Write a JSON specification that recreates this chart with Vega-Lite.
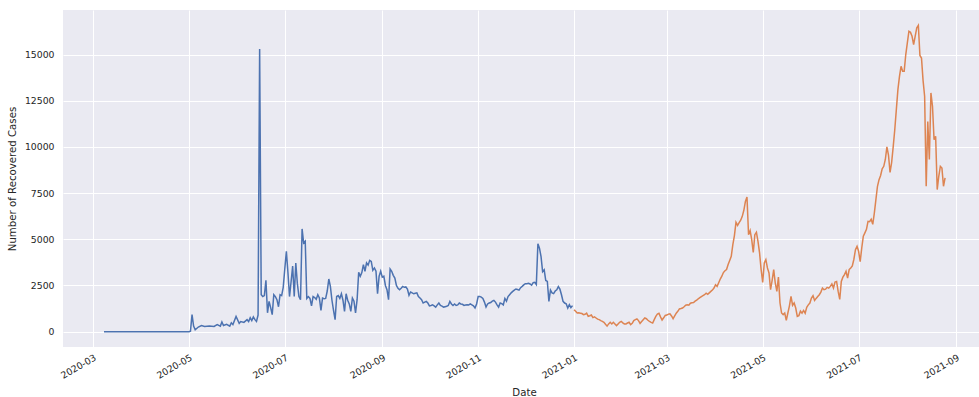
{
  "$schema": "https://vega.github.io/schema/vega-lite/v6.json",
  "autosize": "none",
  "width": 916,
  "height": 337,
  "padding": {"left": 63, "top": 10, "right": 0, "bottom": 50},
  "background": "white",
  "config": {
    "view": {"stroke": null, "fill": "#EAEAF2"},
    "axis": {
      "grid": true, "gridColor": "#FFFFFF", "gridWidth": 1,
      "domain": false, "ticks": false, "tickSize": 0,
      "labelFont": "DejaVu Sans", "titleFont": "DejaVu Sans",
      "labelColor": "#262626", "titleColor": "#262626",
      "labelFontSize": 9.3, "titleFontSize": 10.2, "titleFontWeight": "normal"
    }
  },
  "datasets": {
    "recovered": [
      {"date":"2020-03-08","cases":0,"year":"2020"},
      {"date":"2020-04-01","cases":0,"year":"2020"},
      {"date":"2020-05-01","cases":0,"year":"2020"},
      {"date":"2020-05-02","cases":30,"year":"2020"},
      {"date":"2020-05-03","cases":920,"year":"2020"},
      {"date":"2020-05-04","cases":300,"year":"2020"},
      {"date":"2020-05-05","cases":100,"year":"2020"},
      {"date":"2020-05-07","cases":250,"year":"2020"},
      {"date":"2020-05-09","cases":330,"year":"2020"},
      {"date":"2020-05-11","cases":280,"year":"2020"},
      {"date":"2020-05-14","cases":300,"year":"2020"},
      {"date":"2020-05-17","cases":280,"year":"2020"},
      {"date":"2020-05-19","cases":380,"year":"2020"},
      {"date":"2020-05-21","cases":300,"year":"2020"},
      {"date":"2020-05-22","cases":520,"year":"2020"},
      {"date":"2020-05-23","cases":330,"year":"2020"},
      {"date":"2020-05-25","cases":400,"year":"2020"},
      {"date":"2020-05-27","cases":300,"year":"2020"},
      {"date":"2020-05-28","cases":480,"year":"2020"},
      {"date":"2020-05-29","cases":380,"year":"2020"},
      {"date":"2020-05-31","cases":820,"year":"2020"},
      {"date":"2020-06-02","cases":450,"year":"2020"},
      {"date":"2020-06-03","cases":550,"year":"2020"},
      {"date":"2020-06-05","cases":500,"year":"2020"},
      {"date":"2020-06-07","cases":650,"year":"2020"},
      {"date":"2020-06-08","cases":550,"year":"2020"},
      {"date":"2020-06-09","cases":750,"year":"2020"},
      {"date":"2020-06-10","cases":600,"year":"2020"},
      {"date":"2020-06-11","cases":800,"year":"2020"},
      {"date":"2020-06-12","cases":650,"year":"2020"},
      {"date":"2020-06-13","cases":550,"year":"2020"},
      {"date":"2020-06-14","cases":900,"year":"2020"},
      {"date":"2020-06-15","cases":15300,"year":"2020"},
      {"date":"2020-06-16","cases":2000,"year":"2020"},
      {"date":"2020-06-17","cases":1900,"year":"2020"},
      {"date":"2020-06-18","cases":1950,"year":"2020"},
      {"date":"2020-06-19","cases":2780,"year":"2020"},
      {"date":"2020-06-20","cases":1020,"year":"2020"},
      {"date":"2020-06-21","cases":1640,"year":"2020"},
      {"date":"2020-06-22","cases":1300,"year":"2020"},
      {"date":"2020-06-23","cases":920,"year":"2020"},
      {"date":"2020-06-24","cases":2000,"year":"2020"},
      {"date":"2020-06-25","cases":1900,"year":"2020"},
      {"date":"2020-06-26","cases":1730,"year":"2020"},
      {"date":"2020-06-27","cases":1350,"year":"2020"},
      {"date":"2020-06-28","cases":2000,"year":"2020"},
      {"date":"2020-06-29","cases":1950,"year":"2020"},
      {"date":"2020-06-30","cases":2400,"year":"2020"},
      {"date":"2020-07-01","cases":3400,"year":"2020"},
      {"date":"2020-07-02","cases":4350,"year":"2020"},
      {"date":"2020-07-03","cases":3200,"year":"2020"},
      {"date":"2020-07-04","cases":1900,"year":"2020"},
      {"date":"2020-07-05","cases":2700,"year":"2020"},
      {"date":"2020-07-06","cases":3550,"year":"2020"},
      {"date":"2020-07-07","cases":1900,"year":"2020"},
      {"date":"2020-07-08","cases":3720,"year":"2020"},
      {"date":"2020-07-09","cases":2600,"year":"2020"},
      {"date":"2020-07-10","cases":1900,"year":"2020"},
      {"date":"2020-07-11","cases":1730,"year":"2020"},
      {"date":"2020-07-12","cases":5560,"year":"2020"},
      {"date":"2020-07-13","cases":4800,"year":"2020"},
      {"date":"2020-07-14","cases":4900,"year":"2020"},
      {"date":"2020-07-15","cases":1800,"year":"2020"},
      {"date":"2020-07-16","cases":1900,"year":"2020"},
      {"date":"2020-07-17","cases":1800,"year":"2020"},
      {"date":"2020-07-18","cases":1400,"year":"2020"},
      {"date":"2020-07-19","cases":1900,"year":"2020"},
      {"date":"2020-07-20","cases":1850,"year":"2020"},
      {"date":"2020-07-21","cases":1750,"year":"2020"},
      {"date":"2020-07-22","cases":2000,"year":"2020"},
      {"date":"2020-07-23","cases":1820,"year":"2020"},
      {"date":"2020-07-24","cases":1150,"year":"2020"},
      {"date":"2020-07-25","cases":1820,"year":"2020"},
      {"date":"2020-07-26","cases":1780,"year":"2020"},
      {"date":"2020-07-27","cases":1800,"year":"2020"},
      {"date":"2020-07-28","cases":2200,"year":"2020"},
      {"date":"2020-07-29","cases":2850,"year":"2020"},
      {"date":"2020-07-30","cases":2450,"year":"2020"},
      {"date":"2020-07-31","cases":1700,"year":"2020"},
      {"date":"2020-08-01","cases":1150,"year":"2020"},
      {"date":"2020-08-02","cases":650,"year":"2020"},
      {"date":"2020-08-03","cases":1900,"year":"2020"},
      {"date":"2020-08-04","cases":1950,"year":"2020"},
      {"date":"2020-08-05","cases":1800,"year":"2020"},
      {"date":"2020-08-06","cases":2050,"year":"2020"},
      {"date":"2020-08-07","cases":1700,"year":"2020"},
      {"date":"2020-08-08","cases":1100,"year":"2020"},
      {"date":"2020-08-09","cases":2050,"year":"2020"},
      {"date":"2020-08-10","cases":1700,"year":"2020"},
      {"date":"2020-08-11","cases":1500,"year":"2020"},
      {"date":"2020-08-12","cases":1100,"year":"2020"},
      {"date":"2020-08-13","cases":1820,"year":"2020"},
      {"date":"2020-08-14","cases":1650,"year":"2020"},
      {"date":"2020-08-15","cases":1010,"year":"2020"},
      {"date":"2020-08-16","cases":1730,"year":"2020"},
      {"date":"2020-08-17","cases":3210,"year":"2020"},
      {"date":"2020-08-18","cases":3000,"year":"2020"},
      {"date":"2020-08-19","cases":3200,"year":"2020"},
      {"date":"2020-08-20","cases":3630,"year":"2020"},
      {"date":"2020-08-21","cases":3270,"year":"2020"},
      {"date":"2020-08-22","cases":3720,"year":"2020"},
      {"date":"2020-08-23","cases":3600,"year":"2020"},
      {"date":"2020-08-24","cases":3860,"year":"2020"},
      {"date":"2020-08-25","cases":3800,"year":"2020"},
      {"date":"2020-08-26","cases":3320,"year":"2020"},
      {"date":"2020-08-27","cases":3450,"year":"2020"},
      {"date":"2020-08-28","cases":3270,"year":"2020"},
      {"date":"2020-08-29","cases":2060,"year":"2020"},
      {"date":"2020-08-30","cases":3000,"year":"2020"},
      {"date":"2020-08-31","cases":3270,"year":"2020"},
      {"date":"2020-09-01","cases":2950,"year":"2020"},
      {"date":"2020-09-02","cases":3000,"year":"2020"},
      {"date":"2020-09-03","cases":2500,"year":"2020"},
      {"date":"2020-09-04","cases":2270,"year":"2020"},
      {"date":"2020-09-05","cases":1730,"year":"2020"},
      {"date":"2020-09-06","cases":3390,"year":"2020"},
      {"date":"2020-09-07","cases":3270,"year":"2020"},
      {"date":"2020-09-08","cases":3050,"year":"2020"},
      {"date":"2020-09-09","cases":2900,"year":"2020"},
      {"date":"2020-09-10","cases":2500,"year":"2020"},
      {"date":"2020-09-11","cases":2350,"year":"2020"},
      {"date":"2020-09-12","cases":2270,"year":"2020"},
      {"date":"2020-09-13","cases":2350,"year":"2020"},
      {"date":"2020-09-14","cases":2450,"year":"2020"},
      {"date":"2020-09-15","cases":2400,"year":"2020"},
      {"date":"2020-09-16","cases":2420,"year":"2020"},
      {"date":"2020-09-17","cases":2300,"year":"2020"},
      {"date":"2020-09-18","cases":1970,"year":"2020"},
      {"date":"2020-09-19","cases":2150,"year":"2020"},
      {"date":"2020-09-20","cases":2100,"year":"2020"},
      {"date":"2020-09-21","cases":2050,"year":"2020"},
      {"date":"2020-09-22","cases":2080,"year":"2020"},
      {"date":"2020-09-23","cases":2100,"year":"2020"},
      {"date":"2020-09-24","cases":1900,"year":"2020"},
      {"date":"2020-09-25","cases":1820,"year":"2020"},
      {"date":"2020-09-26","cases":1730,"year":"2020"},
      {"date":"2020-09-27","cases":1550,"year":"2020"},
      {"date":"2020-09-28","cases":1600,"year":"2020"},
      {"date":"2020-09-29","cases":1640,"year":"2020"},
      {"date":"2020-09-30","cases":1550,"year":"2020"},
      {"date":"2020-10-01","cases":1400,"year":"2020"},
      {"date":"2020-10-02","cases":1420,"year":"2020"},
      {"date":"2020-10-03","cases":1450,"year":"2020"},
      {"date":"2020-10-04","cases":1400,"year":"2020"},
      {"date":"2020-10-05","cases":1330,"year":"2020"},
      {"date":"2020-10-06","cases":1450,"year":"2020"},
      {"date":"2020-10-07","cases":1550,"year":"2020"},
      {"date":"2020-10-08","cases":1420,"year":"2020"},
      {"date":"2020-10-09","cases":1380,"year":"2020"},
      {"date":"2020-10-10","cases":1330,"year":"2020"},
      {"date":"2020-10-11","cases":1350,"year":"2020"},
      {"date":"2020-10-12","cases":1370,"year":"2020"},
      {"date":"2020-10-13","cases":1420,"year":"2020"},
      {"date":"2020-10-14","cases":1640,"year":"2020"},
      {"date":"2020-10-15","cases":1500,"year":"2020"},
      {"date":"2020-10-16","cases":1420,"year":"2020"},
      {"date":"2020-10-17","cases":1500,"year":"2020"},
      {"date":"2020-10-18","cases":1420,"year":"2020"},
      {"date":"2020-10-19","cases":1450,"year":"2020"},
      {"date":"2020-10-20","cases":1550,"year":"2020"},
      {"date":"2020-10-21","cases":1500,"year":"2020"},
      {"date":"2020-10-22","cases":1480,"year":"2020"},
      {"date":"2020-10-23","cases":1420,"year":"2020"},
      {"date":"2020-10-24","cases":1440,"year":"2020"},
      {"date":"2020-10-25","cases":1460,"year":"2020"},
      {"date":"2020-10-26","cases":1450,"year":"2020"},
      {"date":"2020-10-27","cases":1500,"year":"2020"},
      {"date":"2020-10-28","cases":1450,"year":"2020"},
      {"date":"2020-10-29","cases":1400,"year":"2020"},
      {"date":"2020-10-30","cases":1280,"year":"2020"},
      {"date":"2020-10-31","cases":1500,"year":"2020"},
      {"date":"2020-11-01","cases":1900,"year":"2020"},
      {"date":"2020-11-02","cases":1900,"year":"2020"},
      {"date":"2020-11-03","cases":1870,"year":"2020"},
      {"date":"2020-11-04","cases":1800,"year":"2020"},
      {"date":"2020-11-05","cases":1600,"year":"2020"},
      {"date":"2020-11-06","cases":1330,"year":"2020"},
      {"date":"2020-11-07","cases":1500,"year":"2020"},
      {"date":"2020-11-08","cases":1550,"year":"2020"},
      {"date":"2020-11-09","cases":1580,"year":"2020"},
      {"date":"2020-11-10","cases":1650,"year":"2020"},
      {"date":"2020-11-11","cases":1690,"year":"2020"},
      {"date":"2020-11-12","cases":1600,"year":"2020"},
      {"date":"2020-11-13","cases":1450,"year":"2020"},
      {"date":"2020-11-14","cases":1330,"year":"2020"},
      {"date":"2020-11-15","cases":1550,"year":"2020"},
      {"date":"2020-11-16","cases":1520,"year":"2020"},
      {"date":"2020-11-17","cases":1450,"year":"2020"},
      {"date":"2020-11-18","cases":1800,"year":"2020"},
      {"date":"2020-11-19","cases":1650,"year":"2020"},
      {"date":"2020-11-20","cases":1900,"year":"2020"},
      {"date":"2020-11-21","cases":2000,"year":"2020"},
      {"date":"2020-11-22","cases":2100,"year":"2020"},
      {"date":"2020-11-23","cases":2180,"year":"2020"},
      {"date":"2020-11-24","cases":2250,"year":"2020"},
      {"date":"2020-11-25","cases":2310,"year":"2020"},
      {"date":"2020-11-26","cases":2280,"year":"2020"},
      {"date":"2020-11-27","cases":2250,"year":"2020"},
      {"date":"2020-11-28","cases":2380,"year":"2020"},
      {"date":"2020-11-29","cases":2450,"year":"2020"},
      {"date":"2020-11-30","cases":2530,"year":"2020"},
      {"date":"2020-12-01","cases":2600,"year":"2020"},
      {"date":"2020-12-02","cases":2600,"year":"2020"},
      {"date":"2020-12-03","cases":2620,"year":"2020"},
      {"date":"2020-12-04","cases":2580,"year":"2020"},
      {"date":"2020-12-05","cases":2520,"year":"2020"},
      {"date":"2020-12-06","cases":2650,"year":"2020"},
      {"date":"2020-12-07","cases":2670,"year":"2020"},
      {"date":"2020-12-08","cases":2550,"year":"2020"},
      {"date":"2020-12-09","cases":4760,"year":"2020"},
      {"date":"2020-12-10","cases":4520,"year":"2020"},
      {"date":"2020-12-11","cases":4060,"year":"2020"},
      {"date":"2020-12-12","cases":3250,"year":"2020"},
      {"date":"2020-12-13","cases":3350,"year":"2020"},
      {"date":"2020-12-14","cases":2770,"year":"2020"},
      {"date":"2020-12-15","cases":2720,"year":"2020"},
      {"date":"2020-12-16","cases":1640,"year":"2020"},
      {"date":"2020-12-17","cases":2250,"year":"2020"},
      {"date":"2020-12-18","cases":2100,"year":"2020"},
      {"date":"2020-12-19","cases":2060,"year":"2020"},
      {"date":"2020-12-20","cases":2200,"year":"2020"},
      {"date":"2020-12-21","cases":2270,"year":"2020"},
      {"date":"2020-12-22","cases":2440,"year":"2020"},
      {"date":"2020-12-23","cases":2300,"year":"2020"},
      {"date":"2020-12-24","cases":2000,"year":"2020"},
      {"date":"2020-12-25","cases":1640,"year":"2020"},
      {"date":"2020-12-26","cases":1550,"year":"2020"},
      {"date":"2020-12-27","cases":1510,"year":"2020"},
      {"date":"2020-12-28","cases":1280,"year":"2020"},
      {"date":"2020-12-29","cases":1460,"year":"2020"},
      {"date":"2020-12-30","cases":1300,"year":"2020"},
      {"date":"2020-12-31","cases":1410,"year":"2020"},
      {"date":"2021-01-01","cases":1190,"year":"2021"},
      {"date":"2021-01-02","cases":1100,"year":"2021"},
      {"date":"2021-01-03","cases":1010,"year":"2021"},
      {"date":"2021-01-04","cases":1020,"year":"2021"},
      {"date":"2021-01-05","cases":1000,"year":"2021"},
      {"date":"2021-01-06","cases":980,"year":"2021"},
      {"date":"2021-01-07","cases":920,"year":"2021"},
      {"date":"2021-01-08","cases":940,"year":"2021"},
      {"date":"2021-01-09","cases":1000,"year":"2021"},
      {"date":"2021-01-10","cases":830,"year":"2021"},
      {"date":"2021-01-11","cases":860,"year":"2021"},
      {"date":"2021-01-12","cases":900,"year":"2021"},
      {"date":"2021-01-13","cases":760,"year":"2021"},
      {"date":"2021-01-14","cases":800,"year":"2021"},
      {"date":"2021-01-15","cases":740,"year":"2021"},
      {"date":"2021-01-16","cases":680,"year":"2021"},
      {"date":"2021-01-17","cases":650,"year":"2021"},
      {"date":"2021-01-18","cases":600,"year":"2021"},
      {"date":"2021-01-19","cases":560,"year":"2021"},
      {"date":"2021-01-20","cases":510,"year":"2021"},
      {"date":"2021-01-21","cases":400,"year":"2021"},
      {"date":"2021-01-22","cases":300,"year":"2021"},
      {"date":"2021-01-23","cases":420,"year":"2021"},
      {"date":"2021-01-24","cases":510,"year":"2021"},
      {"date":"2021-01-25","cases":420,"year":"2021"},
      {"date":"2021-01-26","cases":510,"year":"2021"},
      {"date":"2021-01-27","cases":420,"year":"2021"},
      {"date":"2021-01-28","cases":330,"year":"2021"},
      {"date":"2021-01-29","cases":420,"year":"2021"},
      {"date":"2021-01-30","cases":510,"year":"2021"},
      {"date":"2021-01-31","cases":560,"year":"2021"},
      {"date":"2021-02-01","cases":480,"year":"2021"},
      {"date":"2021-02-02","cases":420,"year":"2021"},
      {"date":"2021-02-03","cases":420,"year":"2021"},
      {"date":"2021-02-04","cases":470,"year":"2021"},
      {"date":"2021-02-05","cases":510,"year":"2021"},
      {"date":"2021-02-06","cases":380,"year":"2021"},
      {"date":"2021-02-07","cases":450,"year":"2021"},
      {"date":"2021-02-08","cases":600,"year":"2021"},
      {"date":"2021-02-09","cases":650,"year":"2021"},
      {"date":"2021-02-10","cases":690,"year":"2021"},
      {"date":"2021-02-11","cases":600,"year":"2021"},
      {"date":"2021-02-12","cases":450,"year":"2021"},
      {"date":"2021-02-13","cases":550,"year":"2021"},
      {"date":"2021-02-14","cases":650,"year":"2021"},
      {"date":"2021-02-15","cases":740,"year":"2021"},
      {"date":"2021-02-16","cases":700,"year":"2021"},
      {"date":"2021-02-17","cases":620,"year":"2021"},
      {"date":"2021-02-18","cases":550,"year":"2021"},
      {"date":"2021-02-19","cases":500,"year":"2021"},
      {"date":"2021-02-20","cases":470,"year":"2021"},
      {"date":"2021-02-21","cases":650,"year":"2021"},
      {"date":"2021-02-22","cases":830,"year":"2021"},
      {"date":"2021-02-23","cases":950,"year":"2021"},
      {"date":"2021-02-24","cases":990,"year":"2021"},
      {"date":"2021-02-25","cases":800,"year":"2021"},
      {"date":"2021-02-26","cases":630,"year":"2021"},
      {"date":"2021-02-27","cases":750,"year":"2021"},
      {"date":"2021-02-28","cases":880,"year":"2021"},
      {"date":"2021-03-01","cases":900,"year":"2021"},
      {"date":"2021-03-02","cases":950,"year":"2021"},
      {"date":"2021-03-03","cases":970,"year":"2021"},
      {"date":"2021-03-04","cases":850,"year":"2021"},
      {"date":"2021-03-05","cases":700,"year":"2021"},
      {"date":"2021-03-06","cases":850,"year":"2021"},
      {"date":"2021-03-07","cases":1000,"year":"2021"},
      {"date":"2021-03-08","cases":1100,"year":"2021"},
      {"date":"2021-03-09","cases":1230,"year":"2021"},
      {"date":"2021-03-10","cases":1250,"year":"2021"},
      {"date":"2021-03-11","cases":1280,"year":"2021"},
      {"date":"2021-03-12","cases":1350,"year":"2021"},
      {"date":"2021-03-13","cases":1430,"year":"2021"},
      {"date":"2021-03-14","cases":1450,"year":"2021"},
      {"date":"2021-03-15","cases":1430,"year":"2021"},
      {"date":"2021-03-16","cases":1540,"year":"2021"},
      {"date":"2021-03-17","cases":1560,"year":"2021"},
      {"date":"2021-03-18","cases":1580,"year":"2021"},
      {"date":"2021-03-19","cases":1650,"year":"2021"},
      {"date":"2021-03-20","cases":1710,"year":"2021"},
      {"date":"2021-03-21","cases":1780,"year":"2021"},
      {"date":"2021-03-22","cases":1840,"year":"2021"},
      {"date":"2021-03-23","cases":1900,"year":"2021"},
      {"date":"2021-03-24","cases":1950,"year":"2021"},
      {"date":"2021-03-25","cases":2000,"year":"2021"},
      {"date":"2021-03-26","cases":2080,"year":"2021"},
      {"date":"2021-03-27","cases":2020,"year":"2021"},
      {"date":"2021-03-28","cases":2100,"year":"2021"},
      {"date":"2021-03-29","cases":2180,"year":"2021"},
      {"date":"2021-03-30","cases":2250,"year":"2021"},
      {"date":"2021-03-31","cases":2360,"year":"2021"},
      {"date":"2021-04-01","cases":2540,"year":"2021"},
      {"date":"2021-04-02","cases":2450,"year":"2021"},
      {"date":"2021-04-03","cases":2650,"year":"2021"},
      {"date":"2021-04-04","cases":2850,"year":"2021"},
      {"date":"2021-04-05","cases":3000,"year":"2021"},
      {"date":"2021-04-06","cases":3200,"year":"2021"},
      {"date":"2021-04-07","cases":3300,"year":"2021"},
      {"date":"2021-04-08","cases":3360,"year":"2021"},
      {"date":"2021-04-09","cases":3630,"year":"2021"},
      {"date":"2021-04-10","cases":3850,"year":"2021"},
      {"date":"2021-04-11","cases":4080,"year":"2021"},
      {"date":"2021-04-12","cases":4710,"year":"2021"},
      {"date":"2021-04-13","cases":5200,"year":"2021"},
      {"date":"2021-04-14","cases":5920,"year":"2021"},
      {"date":"2021-04-15","cases":5750,"year":"2021"},
      {"date":"2021-04-16","cases":5900,"year":"2021"},
      {"date":"2021-04-17","cases":6030,"year":"2021"},
      {"date":"2021-04-18","cases":6240,"year":"2021"},
      {"date":"2021-04-19","cases":6570,"year":"2021"},
      {"date":"2021-04-20","cases":7050,"year":"2021"},
      {"date":"2021-04-21","cases":7290,"year":"2021"},
      {"date":"2021-04-22","cases":5250,"year":"2021"},
      {"date":"2021-04-23","cases":5470,"year":"2021"},
      {"date":"2021-04-24","cases":4980,"year":"2021"},
      {"date":"2021-04-25","cases":4290,"year":"2021"},
      {"date":"2021-04-26","cases":5250,"year":"2021"},
      {"date":"2021-04-27","cases":5380,"year":"2021"},
      {"date":"2021-04-28","cases":4890,"year":"2021"},
      {"date":"2021-04-29","cases":4260,"year":"2021"},
      {"date":"2021-04-30","cases":3360,"year":"2021"},
      {"date":"2021-05-01","cases":2670,"year":"2021"},
      {"date":"2021-05-02","cases":3720,"year":"2021"},
      {"date":"2021-05-03","cases":3900,"year":"2021"},
      {"date":"2021-05-04","cases":3450,"year":"2021"},
      {"date":"2021-05-05","cases":3180,"year":"2021"},
      {"date":"2021-05-06","cases":2270,"year":"2021"},
      {"date":"2021-05-07","cases":2780,"year":"2021"},
      {"date":"2021-05-08","cases":3360,"year":"2021"},
      {"date":"2021-05-09","cases":2620,"year":"2021"},
      {"date":"2021-05-10","cases":2180,"year":"2021"},
      {"date":"2021-05-11","cases":2950,"year":"2021"},
      {"date":"2021-05-12","cases":1550,"year":"2021"},
      {"date":"2021-05-13","cases":1010,"year":"2021"},
      {"date":"2021-05-14","cases":920,"year":"2021"},
      {"date":"2021-05-15","cases":1010,"year":"2021"},
      {"date":"2021-05-16","cases":610,"year":"2021"},
      {"date":"2021-05-17","cases":1010,"year":"2021"},
      {"date":"2021-05-18","cases":1400,"year":"2021"},
      {"date":"2021-05-19","cases":1910,"year":"2021"},
      {"date":"2021-05-20","cases":1430,"year":"2021"},
      {"date":"2021-05-21","cases":1550,"year":"2021"},
      {"date":"2021-05-22","cases":1280,"year":"2021"},
      {"date":"2021-05-23","cases":830,"year":"2021"},
      {"date":"2021-05-24","cases":870,"year":"2021"},
      {"date":"2021-05-25","cases":1110,"year":"2021"},
      {"date":"2021-05-26","cases":1000,"year":"2021"},
      {"date":"2021-05-27","cases":1150,"year":"2021"},
      {"date":"2021-05-28","cases":1000,"year":"2021"},
      {"date":"2021-05-29","cases":1320,"year":"2021"},
      {"date":"2021-05-30","cases":1450,"year":"2021"},
      {"date":"2021-05-31","cases":1550,"year":"2021"},
      {"date":"2021-06-01","cases":1820,"year":"2021"},
      {"date":"2021-06-02","cases":1950,"year":"2021"},
      {"date":"2021-06-03","cases":1690,"year":"2021"},
      {"date":"2021-06-04","cases":1800,"year":"2021"},
      {"date":"2021-06-05","cases":1900,"year":"2021"},
      {"date":"2021-06-06","cases":2000,"year":"2021"},
      {"date":"2021-06-07","cases":2140,"year":"2021"},
      {"date":"2021-06-08","cases":2360,"year":"2021"},
      {"date":"2021-06-09","cases":2270,"year":"2021"},
      {"date":"2021-06-10","cases":2300,"year":"2021"},
      {"date":"2021-06-11","cases":2400,"year":"2021"},
      {"date":"2021-06-12","cases":2360,"year":"2021"},
      {"date":"2021-06-13","cases":2450,"year":"2021"},
      {"date":"2021-06-14","cases":2580,"year":"2021"},
      {"date":"2021-06-15","cases":2360,"year":"2021"},
      {"date":"2021-06-16","cases":2690,"year":"2021"},
      {"date":"2021-06-17","cases":2720,"year":"2021"},
      {"date":"2021-06-18","cases":2180,"year":"2021"},
      {"date":"2021-06-19","cases":1750,"year":"2021"},
      {"date":"2021-06-20","cases":2720,"year":"2021"},
      {"date":"2021-06-21","cases":2950,"year":"2021"},
      {"date":"2021-06-22","cases":3090,"year":"2021"},
      {"date":"2021-06-23","cases":3270,"year":"2021"},
      {"date":"2021-06-24","cases":2900,"year":"2021"},
      {"date":"2021-06-25","cases":3360,"year":"2021"},
      {"date":"2021-06-26","cases":3450,"year":"2021"},
      {"date":"2021-06-27","cases":3560,"year":"2021"},
      {"date":"2021-06-28","cases":3920,"year":"2021"},
      {"date":"2021-06-29","cases":4440,"year":"2021"},
      {"date":"2021-06-30","cases":4620,"year":"2021"},
      {"date":"2021-07-01","cases":4350,"year":"2021"},
      {"date":"2021-07-02","cases":3790,"year":"2021"},
      {"date":"2021-07-03","cases":4530,"year":"2021"},
      {"date":"2021-07-04","cases":5170,"year":"2021"},
      {"date":"2021-07-05","cases":5350,"year":"2021"},
      {"date":"2021-07-06","cases":5540,"year":"2021"},
      {"date":"2021-07-07","cases":5970,"year":"2021"},
      {"date":"2021-07-08","cases":5950,"year":"2021"},
      {"date":"2021-07-09","cases":6080,"year":"2021"},
      {"date":"2021-07-10","cases":5810,"year":"2021"},
      {"date":"2021-07-11","cases":6420,"year":"2021"},
      {"date":"2021-07-12","cases":7150,"year":"2021"},
      {"date":"2021-07-13","cases":7870,"year":"2021"},
      {"date":"2021-07-14","cases":8230,"year":"2021"},
      {"date":"2021-07-15","cases":8450,"year":"2021"},
      {"date":"2021-07-16","cases":8810,"year":"2021"},
      {"date":"2021-07-17","cases":8950,"year":"2021"},
      {"date":"2021-07-18","cases":9320,"year":"2021"},
      {"date":"2021-07-19","cases":10000,"year":"2021"},
      {"date":"2021-07-20","cases":9560,"year":"2021"},
      {"date":"2021-07-21","cases":8620,"year":"2021"},
      {"date":"2021-07-22","cases":9150,"year":"2021"},
      {"date":"2021-07-23","cases":10000,"year":"2021"},
      {"date":"2021-07-24","cases":10930,"year":"2021"},
      {"date":"2021-07-25","cases":12020,"year":"2021"},
      {"date":"2021-07-26","cases":13100,"year":"2021"},
      {"date":"2021-07-27","cases":13820,"year":"2021"},
      {"date":"2021-07-28","cases":14360,"year":"2021"},
      {"date":"2021-07-29","cases":14100,"year":"2021"},
      {"date":"2021-07-30","cases":14100,"year":"2021"},
      {"date":"2021-07-31","cases":15000,"year":"2021"},
      {"date":"2021-08-01","cases":15630,"year":"2021"},
      {"date":"2021-08-02","cases":16260,"year":"2021"},
      {"date":"2021-08-03","cases":16200,"year":"2021"},
      {"date":"2021-08-04","cases":15990,"year":"2021"},
      {"date":"2021-08-05","cases":15540,"year":"2021"},
      {"date":"2021-08-06","cases":16000,"year":"2021"},
      {"date":"2021-08-07","cases":16450,"year":"2021"},
      {"date":"2021-08-08","cases":16580,"year":"2021"},
      {"date":"2021-08-09","cases":14950,"year":"2021"},
      {"date":"2021-08-10","cases":14810,"year":"2021"},
      {"date":"2021-08-11","cases":13600,"year":"2021"},
      {"date":"2021-08-12","cases":12740,"year":"2021"},
      {"date":"2021-08-13","cases":7870,"year":"2021"},
      {"date":"2021-08-14","cases":11380,"year":"2021"},
      {"date":"2021-08-15","cases":9320,"year":"2021"},
      {"date":"2021-08-16","cases":12920,"year":"2021"},
      {"date":"2021-08-17","cases":12200,"year":"2021"},
      {"date":"2021-08-18","cases":10390,"year":"2021"},
      {"date":"2021-08-19","cases":10570,"year":"2021"},
      {"date":"2021-08-20","cases":7690,"year":"2021"},
      {"date":"2021-08-21","cases":8410,"year":"2021"},
      {"date":"2021-08-22","cases":8950,"year":"2021"},
      {"date":"2021-08-23","cases":8860,"year":"2021"},
      {"date":"2021-08-24","cases":7870,"year":"2021"},
      {"date":"2021-08-25","cases":8320,"year":"2021"}
    ]
  },
  "data": {"name": "recovered"},
  "mark": {"type": "line", "strokeWidth": 1.5, "clip": true},
  "encoding": {
    "x": {
      "field": "date", "type": "temporal",
      "scale": {
        "type": "utc",
        "domain": [
          {"year": 2020, "month": 2, "date": 10, "hours": 22, "utc": true},
          {"year": 2021, "month": 9, "date": 15, "hours": 14, "utc": true}
        ]
      },
      "axis": {
        "title": "Date",
        "format": "%Y-%m",
        "values": [
          {"year": 2020, "month": 3, "date": 1, "utc": true},
          {"year": 2020, "month": 5, "date": 1, "utc": true},
          {"year": 2020, "month": 7, "date": 1, "utc": true},
          {"year": 2020, "month": 9, "date": 1, "utc": true},
          {"year": 2020, "month": 11, "date": 1, "utc": true},
          {"year": 2021, "month": 1, "date": 1, "utc": true},
          {"year": 2021, "month": 3, "date": 1, "utc": true},
          {"year": 2021, "month": 5, "date": 1, "utc": true},
          {"year": 2021, "month": 7, "date": 1, "utc": true},
          {"year": 2021, "month": 9, "date": 1, "utc": true}
        ],
        "labelAngle": -30, "labelAlign": "right", "labelBaseline": "top",
        "labelPadding": 6, "labelOverlap": false, "labelFlush": false,
        "titleY": 40, "titleX": 461, "titleBaseline": "top"
      }
    },
    "y": {
      "field": "cases", "type": "quantitative",
      "scale": {"domain": [-830, 17410], "nice": false, "zero": false},
      "axis": {
        "title": "Number of Recovered Cases",
        "format": "d",
        "values": [0, 2500, 5000, 7500, 10000, 12500, 15000],
        "labelPadding": 9, "titlePadding": 7
      }
    },
    "color": {
      "field": "year", "type": "nominal",
      "scale": {"domain": ["2020", "2021"], "range": ["#4C72B0", "#DD8452"]},
      "legend": null
    }
  }
}
